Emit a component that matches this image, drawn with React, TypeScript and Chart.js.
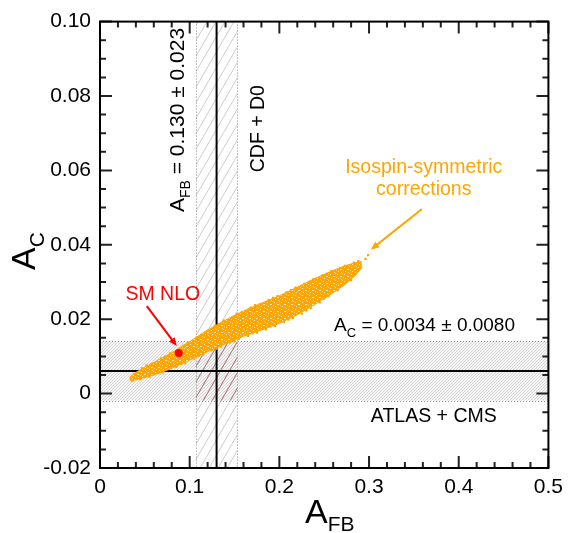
import React, { useEffect, useRef } from 'react';
import { Chart, registerables } from 'chart.js';
Chart.register(...registerables);

const FONT = '"Liberation Sans", Arial, Helvetica, sans-serif';
const ORANGE = 'rgb(255,165,0)';
const RED = 'rgb(255,0,0)';

// Axis tick labels
const xTickLabels = ['0', '0.1', '0.2', '0.3', '0.4', '0.5'];
const yTickLabels = ['-0.02', '0', '0.02', '0.04', '0.06', '0.08', '0.10'];

// Measurements (as drawn)
const AFB_MEAN = 0.13;
const AFB_LO = 0.107;
const AFB_HI = 0.153;
const AC_MEAN = 0.0061;
const AC_LO = -0.0019;
const AC_HI = 0.0141;

// SM NLO point
const smX = [0.0878];
const smY = [0.0109];

// Isospin-symmetric corrections: envelope of the scan cloud
const bandX = [0.033, 0.04, 0.05, 0.065, 0.08, 0.1, 0.12, 0.14, 0.16, 0.18, 0.2, 0.22, 0.24, 0.26, 0.275, 0.285, 0.292];
const bandLower = [0.0036, 0.0037, 0.0043, 0.0054, 0.0068, 0.009, 0.0113, 0.0134, 0.0154, 0.0171, 0.0189, 0.0212, 0.024, 0.0271, 0.0297, 0.0318, 0.0339];
const bandUpper = [0.0044, 0.0057, 0.0071, 0.009, 0.011, 0.014, 0.0171, 0.0198, 0.0222, 0.0243, 0.0263, 0.0286, 0.031, 0.0331, 0.0345, 0.0352, 0.0355];

// Individual scan points on the ragged edges of the cloud
const scanX = [
  0.036, 0.045, 0.055, 0.06, 0.07, 0.075, 0.085, 0.09, 0.095, 0.105, 0.11, 0.115, 0.125, 0.13, 0.135, 0.145, 0.15, 0.155,
  0.165, 0.17, 0.175, 0.185, 0.19, 0.195, 0.205, 0.21, 0.215, 0.225, 0.23, 0.235, 0.245, 0.25, 0.255, 0.265, 0.27, 0.28,
  0.038, 0.047, 0.052, 0.058, 0.068, 0.073, 0.078, 0.088, 0.093, 0.098, 0.108, 0.113, 0.118, 0.128, 0.133, 0.138, 0.148,
  0.153, 0.158, 0.168, 0.173, 0.178, 0.188, 0.193, 0.198, 0.208, 0.213, 0.218, 0.228, 0.233, 0.238, 0.248, 0.253, 0.258,
  0.268, 0.273, 0.283, 0.288, 0.296, 0.299,
];
const scanY = [
  0.0035, 0.0039, 0.0045, 0.0052, 0.0057, 0.0066, 0.0071, 0.008, 0.0082, 0.0094, 0.0102, 0.0105, 0.0117, 0.0121, 0.0126,
  0.0137, 0.0141, 0.0147, 0.0155, 0.0162, 0.0164, 0.0173, 0.018, 0.0182, 0.0192, 0.0199, 0.0203, 0.0215, 0.0224, 0.023,
  0.0245, 0.0255, 0.0262, 0.0278, 0.029, 0.0305,
  0.0053, 0.0068, 0.0076, 0.008, 0.0095, 0.0099, 0.0108, 0.0119, 0.0128, 0.0135, 0.0151, 0.0158, 0.0165, 0.0182, 0.0186,
  0.0196, 0.0206, 0.0214, 0.0218, 0.0231, 0.0238, 0.024, 0.0252, 0.0257, 0.0262, 0.0272, 0.0278, 0.0285, 0.0295, 0.03,
  0.0308, 0.0318, 0.0322, 0.0329, 0.0338, 0.0343, 0.0352, 0.0356, 0.0362, 0.0372,
];

// Annotation anchors (data coordinates)
const isoText = { x: 0.361, y1: 0.0608, y2: 0.0547 };
const isoArrow = { x1: 0.359, y1: 0.0496, x2: 0.302, y2: 0.0387 };
const smText = { x: 0.07, y: 0.0267 };
const smArrow = { x1: 0.0522, y1: 0.0235, x2: 0.0856, y2: 0.0128 };
const afbText = { x: 0.0856, y: 0.0488 };
const cdfText = { x: 0.1756, y: 0.0595 };
const acText = { x: 0.261, y: 0.0168 };
const lhcText = { x: 0.302, y: -0.0077 };

type Seg = [string, boolean?];

function drawRich(ctx: CanvasRenderingContext2D, x: number, y: number, segs: Seg[], size: number, color: string, subSize?: number, subOff?: number) {
  ctx.fillStyle = color;
  ctx.textBaseline = 'alphabetic';
  ctx.textAlign = 'left';
  let cx = x;
  for (const [t, sub] of segs) {
    const s = sub ? (subSize ?? Math.round(size * 0.68)) : size;
    ctx.font = `${s}px ${FONT}`;
    ctx.fillText(t, cx, sub ? y + (subOff ?? size * 0.3) : y);
    cx += ctx.measureText(t).width;
  }
  return cx - x;
}

function arrow(ctx: CanvasRenderingContext2D, x1: number, y1: number, x2: number, y2: number, color: string) {
  ctx.strokeStyle = color;
  ctx.fillStyle = color;
  ctx.lineWidth = 2;
  const ang = Math.atan2(y2 - y1, x2 - x1);
  const hl = 9;
  ctx.beginPath();
  ctx.moveTo(x1, y1);
  ctx.lineTo(x2 - Math.cos(ang) * 4, y2 - Math.sin(ang) * 4);
  ctx.stroke();
  ctx.beginPath();
  ctx.moveTo(x2, y2);
  ctx.lineTo(x2 - hl * Math.cos(ang - 0.4), y2 - hl * Math.sin(ang - 0.4));
  ctx.lineTo(x2 - hl * Math.cos(ang + 0.4), y2 - hl * Math.sin(ang + 0.4));
  ctx.closePath();
  ctx.fill();
}

function hatch(ctx: CanvasRenderingContext2D, rx1: number, ry1: number, rx2: number, ry2: number, top: number, bottom: number, color: string) {
  ctx.save();
  ctx.beginPath();
  ctx.rect(rx1, ry1, rx2 - rx1, ry2 - ry1);
  ctx.clip();
  ctx.strokeStyle = color;
  ctx.lineWidth = 1;
  const k = 0.58;
  const H = bottom - top;
  for (let c = 0; c < 600; c += 9) {
    ctx.beginPath();
    ctx.moveTo(c - H * k, bottom);
    ctx.lineTo(c, top);
    ctx.stroke();
  }
  ctx.restore();
}

function dotPattern(ctx: CanvasRenderingContext2D) {
  const p = document.createElement('canvas');
  p.width = 3;
  p.height = 3;
  const c = p.getContext('2d')!;
  c.fillStyle = 'rgb(244,244,244)';
  c.fillRect(0, 0, 3, 3);
  c.fillStyle = 'rgb(214,214,214)';
  c.fillRect(0, 0, 1, 1);
  c.fillRect(1, 2, 1, 1);
  c.fillRect(2, 1, 1, 1);
  return ctx.createPattern(p, 'repeat')!;
}

function cloudPattern(ctx: CanvasRenderingContext2D) {
  const p = document.createElement('canvas');
  p.width = 7;
  p.height = 7;
  const c = p.getContext('2d')!;
  c.fillStyle = ORANGE;
  c.fillRect(0, 0, 7, 7);
  c.fillStyle = 'rgb(255,236,200)';
  c.fillRect(1, 1, 1, 1);
  c.fillRect(4, 3, 2, 1);
  c.fillRect(2, 5, 1, 1);
  c.fillStyle = 'rgb(255,210,140)';
  c.fillRect(6, 0, 1, 1);
  c.fillRect(0, 4, 1, 1);
  c.fillRect(5, 6, 1, 1);
  return ctx.createPattern(p, 'repeat')!;
}

const decor = {
  id: 'decor',
  beforeDatasetsDraw(chart: any) {
    const { ctx, chartArea: a, scales } = chart;
    const x = scales.x, y = scales.y;
    ctx.save();
    ctx.beginPath();
    ctx.rect(a.left, a.top, a.right - a.left, a.bottom - a.top);
    ctx.clip();
    const hy1 = y.getPixelForValue(AC_HI), hy2 = y.getPixelForValue(AC_LO);
    ctx.fillStyle = dotPattern(ctx);
    ctx.fillRect(a.left, hy1, a.right - a.left, hy2 - hy1);
    const vx1 = x.getPixelForValue(AFB_LO), vx2 = x.getPixelForValue(AFB_HI);
    hatch(ctx, vx1, a.top, vx2, a.bottom, a.top, a.bottom, 'rgb(205,205,205)');
    hatch(ctx, vx1, hy1, vx2, hy2, a.top, a.bottom, 'rgb(180,118,118)');
    ctx.strokeStyle = 'rgb(140,140,140)';
    ctx.lineWidth = 1;
    ctx.setLineDash([1, 2]);
    for (const py of [hy1, hy2]) {
      ctx.beginPath();
      ctx.moveTo(a.left, Math.round(py) + 0.5);
      ctx.lineTo(a.right, Math.round(py) + 0.5);
      ctx.stroke();
    }
    for (const px of [vx1, vx2]) {
      ctx.beginPath();
      ctx.moveTo(Math.round(px) + 0.5, a.top);
      ctx.lineTo(Math.round(px) + 0.5, a.bottom);
      ctx.stroke();
    }
    ctx.setLineDash([]);
    ctx.strokeStyle = '#000';
    ctx.lineWidth = 2;
    const mx = x.getPixelForValue(AFB_MEAN), my = y.getPixelForValue(AC_MEAN);
    ctx.beginPath();
    ctx.moveTo(mx, a.top);
    ctx.lineTo(mx, a.bottom);
    ctx.moveTo(a.left, my);
    ctx.lineTo(a.right, my);
    ctx.stroke();
    ctx.restore();
  },
  afterDatasetsDraw(chart: any) {
    const { ctx, chartArea: a, scales } = chart;
    const x = scales.x, y = scales.y;
    ctx.save();
    // ticks
    ctx.strokeStyle = '#222';
    ctx.lineWidth = 2;
    for (let i = 0; i <= 25; i++) {
      const px = x.getPixelForValue(i * 0.02);
      const len = i % 5 === 0 ? 12 : 6;
      ctx.beginPath();
      ctx.moveTo(px, a.bottom);
      ctx.lineTo(px, a.bottom - len);
      ctx.moveTo(px, a.top);
      ctx.lineTo(px, a.top + len);
      ctx.stroke();
    }
    for (let j = 0; j <= 24; j++) {
      const py = y.getPixelForValue(-0.02 + j * 0.005);
      const len = j % 4 === 0 ? 12 : 6;
      ctx.beginPath();
      ctx.moveTo(a.left, py);
      ctx.lineTo(a.left + len, py);
      ctx.moveTo(a.right, py);
      ctx.lineTo(a.right - len, py);
      ctx.stroke();
    }
    ctx.strokeStyle = '#000';
    ctx.lineWidth = 2;
    ctx.strokeRect(a.left, a.top, a.right - a.left, a.bottom - a.top);

    const P = (v: number) => x.getPixelForValue(v);
    const Q = (v: number) => y.getPixelForValue(v);

    // Isospin label
    ctx.font = `19.5px ${FONT}`;
    ctx.fillStyle = ORANGE;
    ctx.textAlign = 'center';
    ctx.textBaseline = 'middle';
    ctx.fillText('Isospin-symmetric', P(isoText.x), Q(isoText.y1));
    ctx.fillText('corrections', P(isoText.x), Q(isoText.y2));
    arrow(ctx, P(isoArrow.x1), Q(isoArrow.y1), P(isoArrow.x2), Q(isoArrow.y2), ORANGE);

    // SM NLO label
    ctx.font = `19.5px ${FONT}`;
    ctx.fillStyle = RED;
    ctx.textAlign = 'center';
    ctx.textBaseline = 'middle';
    ctx.fillText('SM NLO', P(smText.x), Q(smText.y));
    arrow(ctx, P(smArrow.x1), Q(smArrow.y1), P(smArrow.x2), Q(smArrow.y2), RED);

    // vertical labels
    ctx.save();
    ctx.translate(P(afbText.x) + 7, Q(afbText.y));
    ctx.rotate(-Math.PI / 2);
    drawRich(ctx, 0, 0, [['A'], ['FB', true], [' = 0.130 \u00b1 0.023']], 21, '#000');
    ctx.restore();
    ctx.save();
    ctx.translate(P(cdfText.x) + 7, Q(cdfText.y));
    ctx.rotate(-Math.PI / 2);
    drawRich(ctx, 0, 0, [['CDF + D0']], 19.5, '#000');
    ctx.restore();

    drawRich(ctx, P(acText.x), Q(acText.y), [['A'], ['C', true], [' = 0.0034 \u00b1 0.0080']], 19, '#000');
    drawRich(ctx, P(lhcText.x), Q(lhcText.y), [['ATLAS + CMS']], 19.5, '#000');

    // axis titles
    drawRich(ctx, 305, 523, [['A'], ['FB', true]], 34, '#000', 21, 8);
    ctx.save();
    ctx.translate(35, 270);
    ctx.rotate(-Math.PI / 2);
    drawRich(ctx, 0, 0, [['A'], ['C', true]], 34, '#000', 21, 9);
    ctx.restore();
    ctx.restore();
  },
};

export default function App() {
  const ref = useRef<HTMLCanvasElement>(null);
  useEffect(() => {
    const canvas = ref.current!;
    const ctx = canvas.getContext('2d')!;
    const lower = bandX.map((v, i) => ({ x: v, y: bandLower[i] }));
    const upper = bandX.map((v, i) => ({ x: v, y: bandUpper[i] }));
    const scan = scanX.map((v, i) => ({ x: v, y: scanY[i] }));
    const sm = smX.map((v, i) => ({ x: v, y: smY[i] }));
    const chart = new Chart(canvas, {
      type: 'scatter',
      data: {
        datasets: [
          { data: lower, showLine: true, borderColor: ORANGE, borderWidth: 1, pointRadius: 0, fill: false, order: 3 },
          { data: upper, showLine: true, borderColor: ORANGE, borderWidth: 1, pointRadius: 0, fill: '-1', backgroundColor: cloudPattern(ctx), order: 3 },
          { data: scan, backgroundColor: ORANGE, borderColor: ORANGE, borderWidth: 0, pointStyle: 'rect', pointRadius: 1.6, order: 2 },
          { data: sm, backgroundColor: RED, borderColor: RED, borderWidth: 0, pointRadius: 4, order: 1 },
        ],
      },
      options: {
        responsive: false,
        animation: false,
        events: [],
        layout: { padding: { left: 0, right: 20, top: 18, bottom: 0 } },
        plugins: { legend: { display: false }, tooltip: { enabled: false } },
        scales: {
          x: {
            type: 'linear',
            min: 0,
            max: 0.5,
            grid: { display: false, drawTicks: false },
            border: { display: false },
            ticks: {
              stepSize: 0.1,
              padding: 7,
              color: '#000',
              font: { family: FONT, size: 21 },
              callback: (_v: any, i: number) => xTickLabels[i],
            },
            afterFit: (s: any) => { s.height = 65; },
          },
          y: {
            type: 'linear',
            min: -0.02,
            max: 0.1,
            grid: { display: false, drawTicks: false },
            border: { display: false },
            ticks: {
              stepSize: 0.02,
              padding: 9,
              color: '#000',
              font: { family: FONT, size: 21 },
              callback: (_v: any, i: number) => yTickLabels[i],
            },
            afterFit: (s: any) => { s.width = 100; },
          },
        },
      },
      plugins: [decor],
    } as any);
    return () => chart.destroy();
  }, []);
  return (
    <div style={{ position: 'absolute', left: 0, top: 0, width: 570, height: 533 }}>
      <canvas ref={ref} width={570} height={533} />
    </div>
  );
}
